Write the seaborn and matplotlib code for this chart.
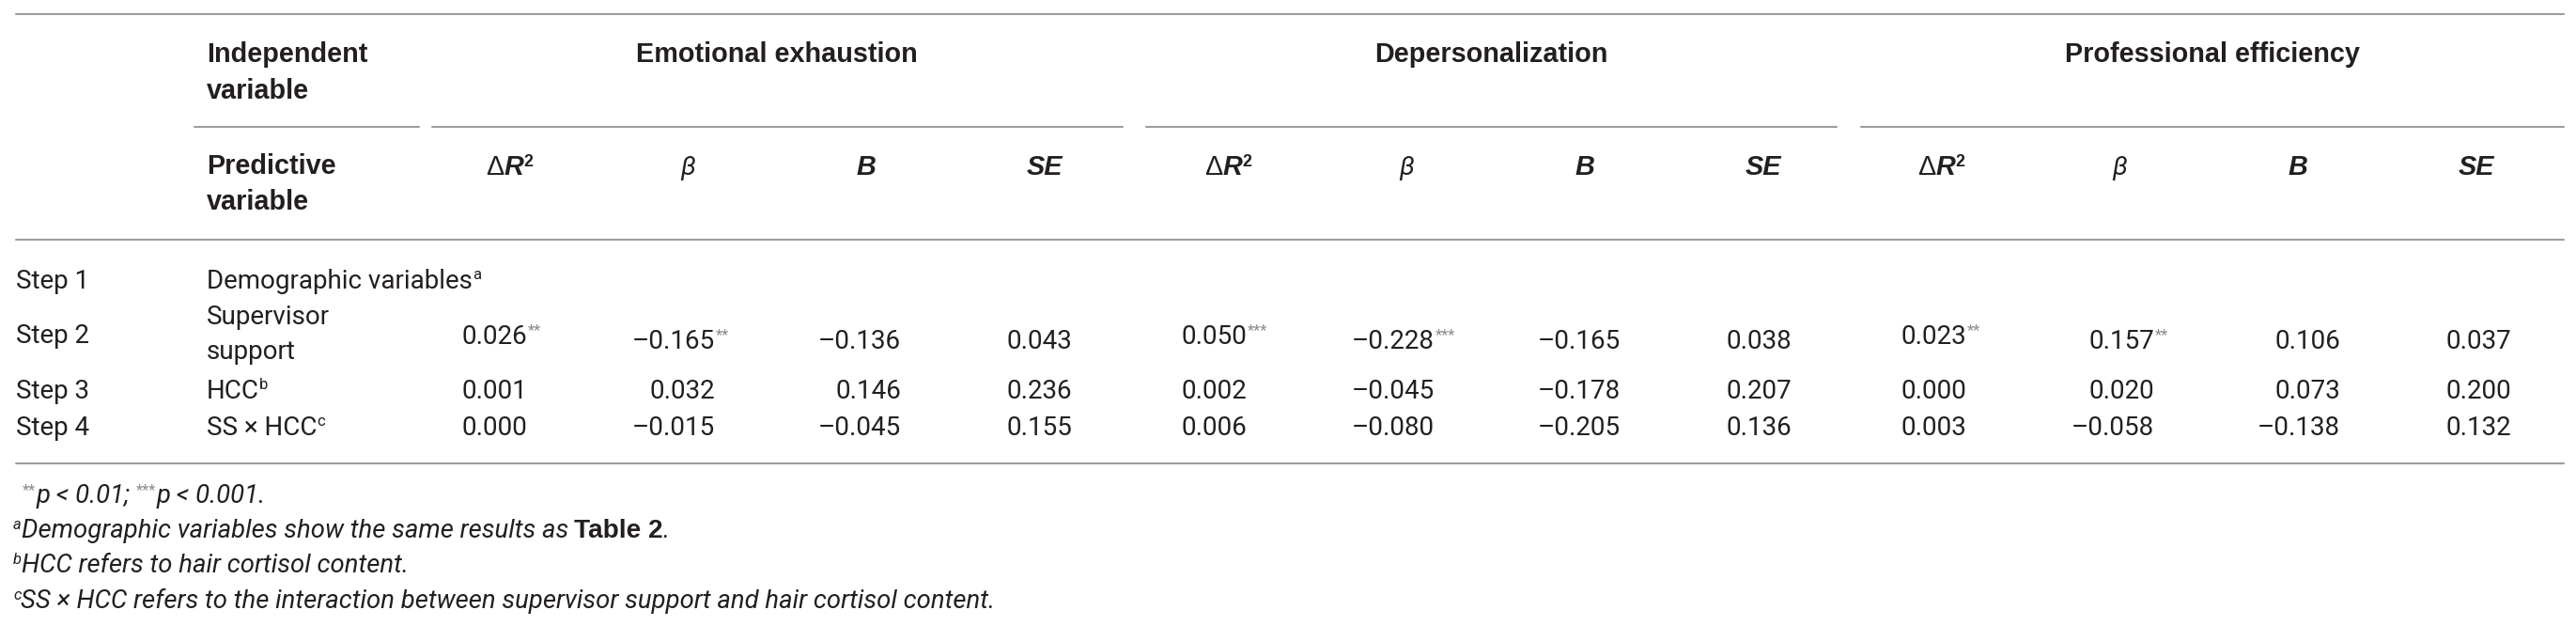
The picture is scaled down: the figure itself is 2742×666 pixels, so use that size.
import matplotlib
matplotlib.use("Agg")
import matplotlib.pyplot as plt
import seaborn as sns
import pandas as pd

# ---- table content ----
steps = ["Step 1", "Step 2", "Step 3", "Step 4"]
predictors = [["Demographic variables"], ["Supervisor", "support"], ["HCC"], ["SS × HCC"]]
predictor_marks = ["a", "", "b", "c"]
outcomes = ["Emotional exhaustion", "Depersonalization", "Professional efficiency"]
stat_names = ["dr2", "beta", "b", "se"]

# rows: Step 2, Step 3, Step 4
ee_dr2 = [0.026, 0.001, 0.000]
ee_beta = [-0.165, 0.032, -0.015]
ee_b = [-0.136, 0.146, -0.045]
ee_se = [0.043, 0.236, 0.155]
dp_dr2 = [0.050, 0.002, 0.006]
dp_beta = [-0.228, -0.045, -0.080]
dp_b = [-0.165, -0.178, -0.205]
dp_se = [0.038, 0.207, 0.136]
pe_dr2 = [0.023, 0.000, 0.003]
pe_beta = [0.157, 0.020, -0.058]
pe_b = [0.106, 0.073, -0.138]
pe_se = [0.037, 0.200, 0.132]

ee_stars = ["**", "", ""]
dp_stars = ["***", "", ""]
pe_stars = ["**", "", ""]

footnote_1 = [("**", "p < 0.01;"), ("***", "p < 0.001.")]
footnote_2 = ("a", "Demographic variables show the same results as", "Table 2", ".")
footnote_3 = ("b", "HCC refers to hair cortisol content.")
footnote_4 = ("c", "SS × HCC refers to the interaction between supervisor support and hair cortisol content.")

# ---- styling ----
sns.set_theme(style="white")
plt.rcParams["font.family"] = ["Roboto", "DejaVu Sans"]

W, H = 2742, 666
INK = "#231f20"
STAR = "#8a8a8a"
RULE = "#9d9d9d"
SANS = ["Roboto", "DejaVu Sans"]
HEAD = ["Liberation Sans", "DejaVu Sans"]

fig = plt.figure(figsize=(W / 100, H / 100), dpi=100)
fig.patch.set_facecolor("white")
ax = fig.add_axes([0, 0, 1, 1])
ax.set_xlim(0, W)
ax.set_ylim(H, 0)
ax.axis("off")
renderer = fig.canvas.get_renderer()


def fit_size(text, target_px, **style):
    # font size (pt) that makes `text` about target_px wide
    t = ax.text(0, 0, text, fontsize=10, **style)
    w = t.get_window_extent(renderer).width
    t.remove()
    return 10 * target_px / w


def runs_at(x, y, runs, ha="left"):
    """Draw a row of differently styled text pieces side by side."""
    placed = []
    cur = x
    for run in runs:
        text, style = run[0], dict(run[1])
        rise = run[2] if len(run) > 2 else 0
        gap = run[3] if len(run) > 3 else 0
        cur += gap
        color = style.pop("color", INK)
        t = ax.text(cur, y - rise, text, ha="left", va="baseline", color=color, **style)
        cur += t.get_window_extent(renderer).width
        placed.append(t)
    total = cur - x
    if ha != "left":
        shift = total if ha == "right" else total / 2
        for t in placed:
            px, py = t.get_position()
            t.set_x(px - shift)
    return cur


FS = 20.0
FH = fit_size("Emotional exhaustion", 299, family=HEAD, fontweight="bold")
FN = fit_size(footnote_4[1], 1030, family=SANS, fontstyle="italic")

body = dict(fontsize=FS, family=SANS)
bold = dict(fontsize=FH, family=HEAD, fontweight="bold")
bold_it = dict(fontsize=FH, family=HEAD, fontweight="bold", fontstyle="italic")
beta_it = dict(fontsize=FS, family=SANS, fontstyle="italic")
mark = dict(fontsize=FS * 0.6, family=SANS)
fn_it = dict(fontsize=FN, family=SANS, fontstyle="italic")
fn_bold = dict(fontsize=FN * 1.02, family=HEAD, fontweight="bold")
fn_mark = dict(fontsize=FN * 0.6, family=SANS, fontstyle="italic")
fn_star = dict(fontsize=FN * 0.6, family=SANS, color=STAR)

# ---- rules ----
left, right = 17, 2729
ax.plot([left, right], [15, 15], color=RULE, lw=1.5)
for x0, x1 in [(207, 446), (460, 1195), (1220, 1955), (1981, 2729)]:
    ax.plot([x0, x1], [135, 135], color=RULE, lw=1.5)
ax.plot([left, right], [255, 255], color=RULE, lw=1.5)
ax.plot([left, right], [493, 493], color=RULE, lw=1.5)

# ---- header ----
col_left = 220
ax.text(col_left, 66, "Independent", color=INK, va="baseline", **bold)
ax.text(col_left, 105, "variable", color=INK, va="baseline", **bold)
ax.text(col_left, 185, "Predictive", color=INK, va="baseline", **bold)
ax.text(col_left, 223, "variable", color=INK, va="baseline", **bold)

group_centers = [827, 1587, 2355]
for name, cx in zip(outcomes, group_centers):
    ax.text(cx, 66, name, color=INK, ha="center", va="baseline", **bold)

header_centers = [542, 732, 922, 1112]
group_step = 765
for g in range(3):
    off = g * group_step - (6 if g == 2 else 0)
    c = [h + off for h in header_centers]
    runs_at(c[0], 186, [("Δ", dict(fontsize=FH, family=HEAD)),
                        ("R", bold_it),
                        ("2", dict(fontsize=FH * 0.62, family=HEAD, fontweight="bold"), 9)], ha="center")
    runs_at(c[1], 186, [("β", beta_it)], ha="center")
    runs_at(c[2], 186, [("B", bold_it)], ha="center")
    runs_at(c[3], 186, [("SE", bold_it)], ha="center")

# ---- body ----
step_base = [307, 365, 424, 463]
for s, yb in zip(steps, step_base):
    ax.text(left, yb, s, color=INK, va="baseline", **body)

pred_base = [[307], [345, 382], [424], [463]]
for lines, m, ybs in zip(predictors, predictor_marks, pred_base):
    for i, (ln, yb) in enumerate(zip(lines, ybs)):
        runs = [(ln, body)]
        if m and i == len(lines) - 1:
            runs.append((m, mark, 10))
        runs_at(col_left, yb, runs)

table = pd.DataFrame({
    "outcome": sum([[o] * 3 for o in outcomes], []),
    "row": [0, 1, 2] * 3,
    "dr2": ee_dr2 + dp_dr2 + pe_dr2,
    "beta": ee_beta + dp_beta + pe_beta,
    "b": ee_b + dp_b + pe_b,
    "se": ee_se + dp_se + pe_se,
    "stars": ee_stars + dp_stars + pe_stars,
})

value_right = [561, 761, 959, 1141]
dr2_base = [366, 424, 463]
other_base = [371, 424, 463]


def fmt(v):
    return f"{v:.3f}".replace("-", "–")


for _, r in table.iterrows():
    g = outcomes.index(r["outcome"])
    off = g * 766
    for k, stat in enumerate(stat_names):
        xr = value_right[k] + off
        yb = dr2_base[r["row"]] if stat == "dr2" else other_base[r["row"]]
        ax.text(xr, yb, fmt(r[stat]), color=INK, ha="right", va="baseline", **body)
        if r["stars"] and stat in ("dr2", "beta"):
            ax.text(xr + 1, yb - 10, r["stars"], color=STAR, ha="left", va="baseline",
                    fontsize=FS * 0.6, family=SANS)

# ---- footnotes ----
fx = 14
runs = []
for i, (st, txt) in enumerate(footnote_1):
    runs.append((st, fn_star, 9, 7 if i else 10))
    runs.append((txt, fn_it))
runs_at(fx, 535, runs)
runs_at(fx, 572, [(footnote_2[0], fn_mark, 9), (footnote_2[1], fn_it),
                  (footnote_2[2], fn_bold, 0, 6), (footnote_2[3], fn_it)])
runs_at(fx, 609, [(footnote_3[0], fn_mark, 9), (footnote_3[1], fn_it)])
runs_at(fx, 647, [(footnote_4[0], fn_mark, 9), (footnote_4[1], fn_it)])

fig.savefig("out.png", dpi=100, facecolor="white")
